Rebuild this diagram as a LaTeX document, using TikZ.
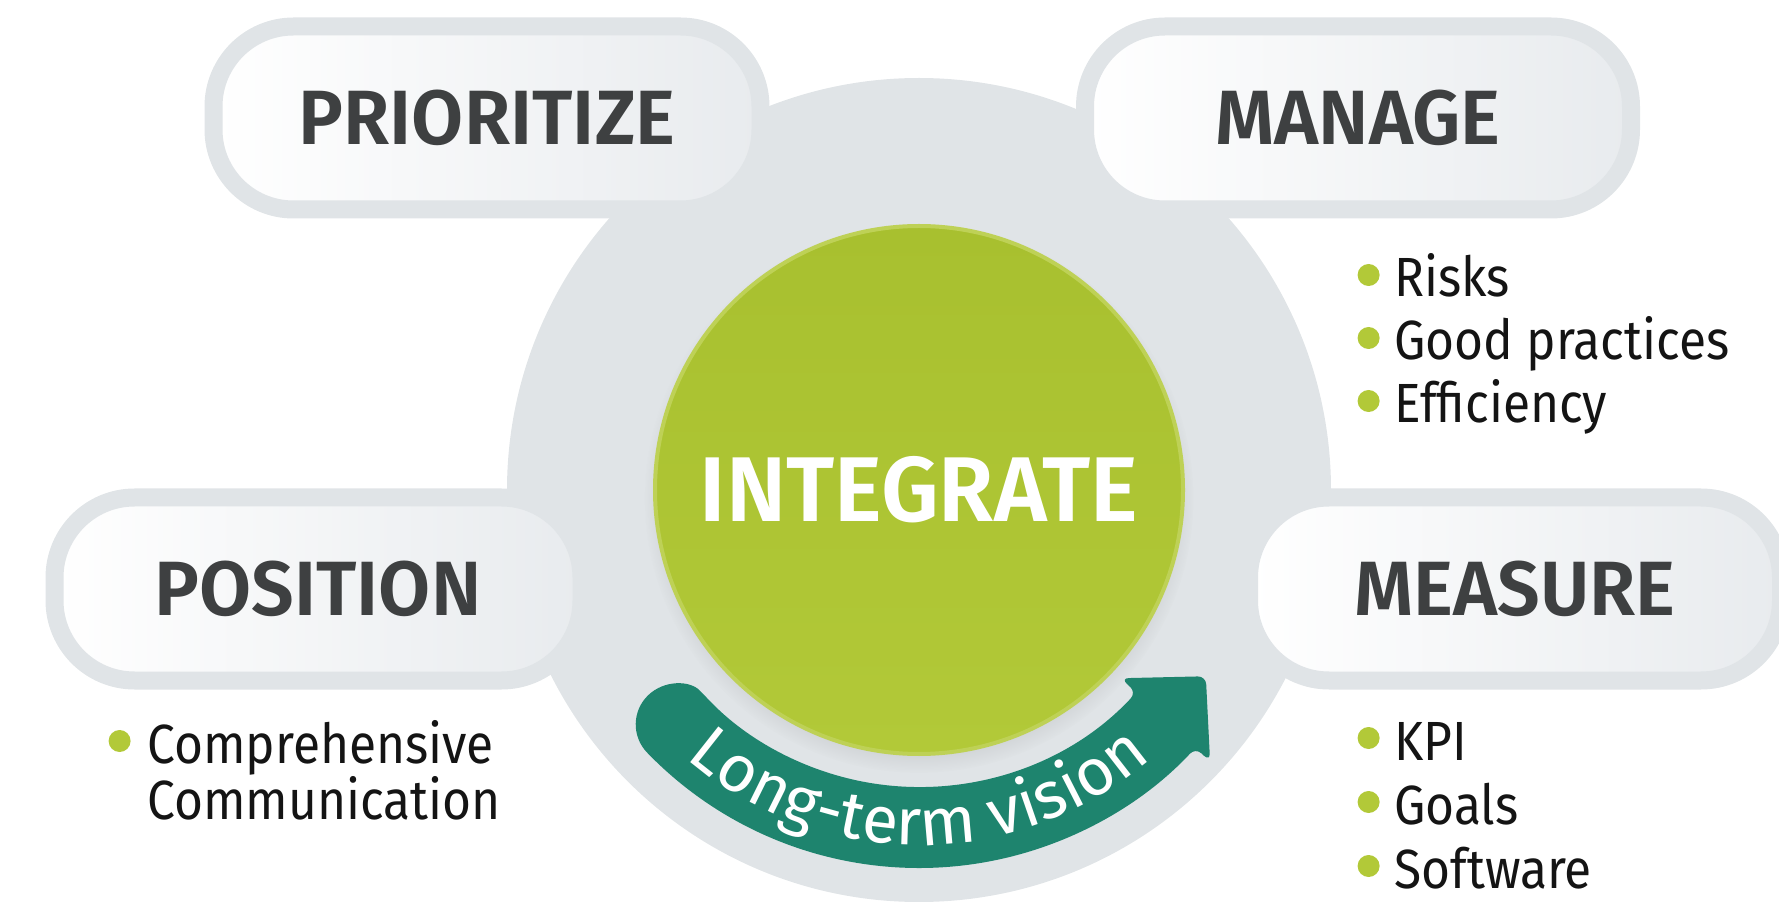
\documentclass[tikz,border=0pt]{standalone}
\usepackage{fontspec}
\setmainfont{Fira Sans}
\newfontfamily\headfont{Fira Sans SemiBold}[FakeStretch=0.98]
\newfontfamily\listfont{Fira Sans}[FakeStretch=0.9]
\usetikzlibrary{positioning,shadows,decorations.text}
\definecolor{ringgrey}{RGB}{224,228,231}
\definecolor{pillshade}{RGB}{232,235,238}
\definecolor{headgrey}{RGB}{62,64,65}
\definecolor{intgreen}{RGB}{178,201,56}
\definecolor{intgreendark}{RGB}{168,192,47}
\definecolor{visionteal}{RGB}{30,132,110}
\newcommand{\visionfont}{\fontsize{33}{35}\selectfont}

\begin{document}
\begin{tikzpicture}[x=0.5pt,y=0.5pt,
   pill/.style={rectangle,rounded corners=40pt,draw=ringgrey,line width=9pt,
      left color=white,right color=pillshade,minimum height=91.5pt,
      text=headgrey,font=\headfont\fontsize{38.5}{40}\selectfont},
   item/.style={anchor=base west,inner sep=0pt,text height=25pt,text depth=3pt,
      text=black!92,font=\listfont\fontsize{27.6}{30}\selectfont},
   greendot/.style={circle,fill=intgreen,inner sep=0pt,minimum size=11pt}]
   \useasboundingbox (0,0) rectangle (1779,901);
   \clip (0,0) rectangle (1779,901);
   \node[circle,fill=ringgrey,inner sep=0pt,minimum size=412pt] (ring) at (919,411) {};

   \node[pill,minimum width=273.5pt] (prioritize) at (487,783) {PRIORITIZE};
   \node[pill,minimum width=273pt] (manage) at (1358,783) {MANAGE};
   \node[pill,minimum width=263.5pt] (position) at (318,312) {POSITION};
   \node[pill,minimum width=266pt] (measure) at (1515,312) {MEASURE};

   \node[circle,inner sep=0pt,minimum size=264pt,draw=intgreen!85!white,line width=2pt,
      top color=intgreendark,bottom color=intgreen,
      circular drop shadow={shadow xshift=0pt,shadow yshift=-4pt,shadow scale=1.04,opacity=0.3},
      text=white,font=\headfont\fontsize{46}{48}\selectfont] (integrate) at (919,411) {INTEGRATE};

   \begin{scope}[shift={(integrate.center)}]
   \fill[visionteal,rounded corners=4pt] (224:378) arc[start angle=224,end angle=317,radius=378]
      -- (317:398) -- (327:342) -- (317:276) -- (317:297)
      arc[start angle=317,end angle=224,radius=297]
      arc[start angle=44,end angle=224,radius=40.5];
   \path[decorate,decoration={text along path,text align=center,text color=white,
      text={|\visionfont|Long-term vision}}]
      (200:355) arc[start angle=200,end angle=340,radius=355];
   \end{scope}

   \foreach \txt [count=\i] in {Risks,Good practices,Efficiency} {
      \node[item] (manage\i) at (1394,{604-63*(\i-1)}) {\txt};
      \node[greendot,left=7pt of manage\i.west] (managedot\i) {};
   }
   \foreach \txt [count=\i] in {KPI,Goals,Software} {
      \node[item] (measure\i) at (1394,{141-64*(\i-1)}) {\txt};
      \node[greendot,left=7pt of measure\i.west] (measuredot\i) {};
   }
   \node[item] (position1) at (147,138) {Comprehensive};
   \node[item] (position2) at (147,82) {Communication};
   \node[greendot,left=8pt of position1.west] (positiondot) {};
\end{tikzpicture}
\end{document}
